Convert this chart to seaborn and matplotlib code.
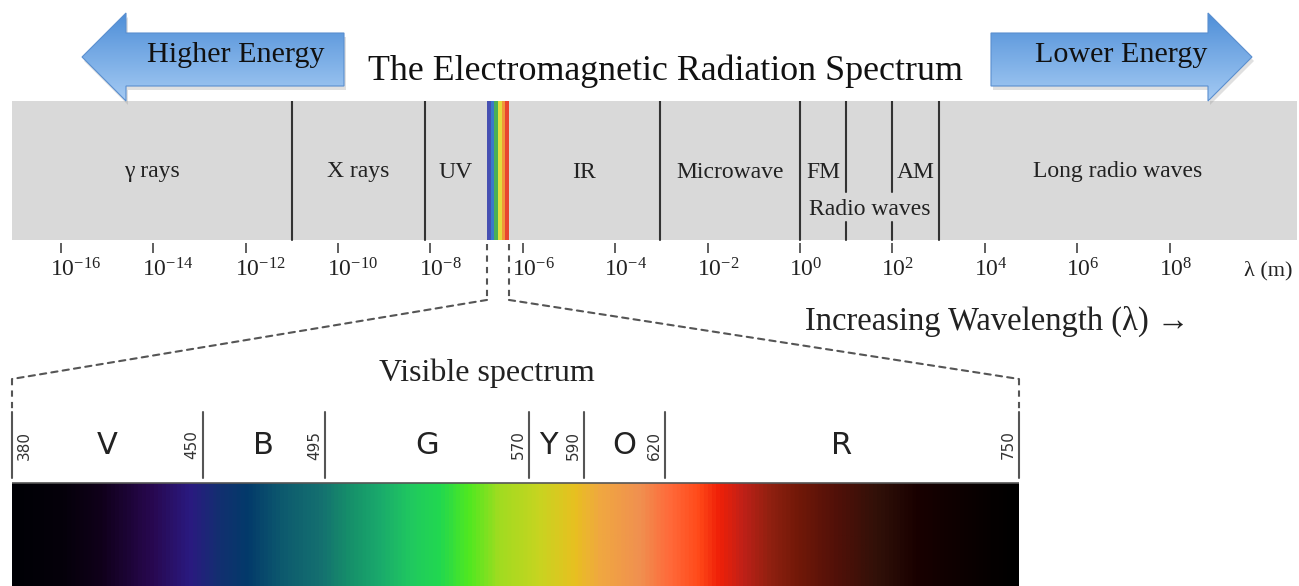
import numpy as np
import matplotlib
matplotlib.use("Agg")
import matplotlib.pyplot as plt
import matplotlib.transforms as mtransforms
import seaborn as sns
from matplotlib.colors import LinearSegmentedColormap, ListedColormap, Normalize
from matplotlib.patches import Polygon, ConnectionPatch
from matplotlib.ticker import NullLocator

# ---- top band: regions on a log10 wavelength (m) axis ----
region_names = ["γ rays", "X rays", "UV", "IR", "Microwave", "FM", "AM", "Long radio waves"]
region_lo = [-17.06, -11.0, -8.12, -6.30, -3.03, 0.0, 2.0, 3.0]
region_hi = [-11.0, -8.12, -6.775, -3.03, 0.0, 1.0, 3.0, 10.76]
full_dividers = [-11.0, -8.12, -3.03, 0.0, 3.0]
split_dividers = [1.0, 2.0]
radio_span = [0.0, 3.0]
visible_span = [-6.775, -6.30]
rainbow_colors = ["#4650b2", "#3b78c9", "#4aae56", "#e2dc3c", "#f0973a", "#e8452f"]
tick_exponents = [-16, -14, -12, -10, -8, -6, -4, -2, 0, 2, 4, 6, 8]

# ---- bottom: visible spectrum (nm) ----
vis_bounds = [380, 450, 495, 570, 590, 620, 750]
vis_letters = ["V", "B", "G", "Y", "O", "R"]
vis_letter_nm = [415, 472.5, 532.5, 577, 605, 685]
vis_nm = [380, 398, 412, 431, 445, 456, 466, 479, 493, 504, 515, 526, 537, 548, 559,
          574, 587, 596, 611, 622, 633, 640, 649, 659, 670, 684, 699, 714, 736, 750]
vis_colors = ["#000005", "#05000a", "#10001a", "#280850", "#2a1a80", "#123070", "#033a6a",
              "#0d5a6e", "#147070", "#16906a", "#1aaa6c", "#20c860", "#22d850", "#50e820",
              "#a0dc20", "#c8d420", "#e8c020", "#f0a840", "#f09050", "#ff6a3a", "#ff4818",
              "#f02008", "#c02018", "#902010", "#701808", "#501008", "#301008", "#180000",
              "#080000", "#000000"]

sns.set_theme(style="white")
serif = ["Liberation Serif", "DejaVu Serif"]
plt.rcParams["font.family"] = serif
plt.rcParams["mathtext.fontset"] = "stix"

W, H = 1299, 586
PX_PER_DEC = 46.2
ZERO_PX = 800
line_col = "#333333"

fig = plt.figure(figsize=(W / 100, H / 100), dpi=100)

# top band axes (log scale)
ax = fig.add_axes([0, 1 - 243 / H, 1, 142 / H])
ax.set_xscale("log")
ax.set_xlim(10 ** (-ZERO_PX / PX_PER_DEC), 10 ** ((W - ZERO_PX) / PX_PER_DEC))
ax.set_ylim(0, 1)
for s in ax.spines.values():
    s.set_visible(False)
band_bot = 0.021
ax.axvspan(10 ** region_lo[0], 10 ** region_hi[-1], ymin=band_bot, ymax=1,
           color="#d9d9d9", lw=0, zorder=0)

# rainbow strip for visible light
edges = np.logspace(visible_span[0], visible_span[1], len(rainbow_colors) + 1)
ax.pcolormesh(edges, [band_bot, 1], np.arange(len(rainbow_colors))[None, :],
              cmap=ListedColormap(rainbow_colors), shading="flat", zorder=1)

for d in full_dividers:
    ax.plot([10 ** d] * 2, [band_bot, 1], color=line_col, lw=1.5, zorder=2)
for d in split_dividers:
    ax.plot([10 ** d] * 2, [0.359, 1], color=line_col, lw=1.5, zorder=2)
    ax.plot([10 ** d] * 2, [band_bot, 0.148], color=line_col, lw=1.5, zorder=2)

for name, lo, hi in zip(region_names, region_lo, region_hi):
    ax.text(10 ** ((lo + hi) / 2), 0.50, name, ha="center", va="center",
            fontsize=17, color="#222222")
ax.text(10 ** (sum(radio_span) / 2), 0.235, "Radio waves", ha="center", va="center",
        fontsize=17, color="#222222")

ax.set_yticks([])
ax.set_xticks([10.0 ** e for e in tick_exponents])
ax.xaxis.set_minor_locator(NullLocator())
ax.tick_params(axis="x", bottom=True, direction="out", length=7, width=1.1,
               color=line_col, pad=4, labelsize=17, labelcolor="#222222")
# centre the "10" on the tick, exponent hangs to the right
shift = mtransforms.ScaledTranslation(-11 / 100, 0, fig.dpi_scale_trans)
for lab in ax.get_xticklabels():
    lab.set_horizontalalignment("left")
    lab.set_transform(lab.get_transform() + shift)

# dashed zoom lines from the top band
dash = dict(color="#555555", lw=1.5, ls=(0, (3, 2.5)))
for e in visible_span:
    ax.plot([10 ** e] * 2, [-0.007, -0.401], clip_on=False, **dash)

# bottom axes: visible spectrum
axb = fig.add_axes([12 / W, 0, 1007 / W, 210 / H])
axb.set_xlim(vis_bounds[0], vis_bounds[-1])
axb.set_ylim(0, 210)
axb.axis("off")
grad = np.linspace(vis_bounds[0], vis_bounds[-1], 1000)[None, :]
vis_cmap = LinearSegmentedColormap.from_list(
    "visible", list(zip((np.array(vis_nm) - vis_nm[0]) / (vis_nm[-1] - vis_nm[0]), vis_colors)))
axb.imshow(grad, extent=[vis_bounds[0], vis_bounds[-1], 0, 103], aspect="auto",
           cmap=vis_cmap, norm=Normalize(vis_bounds[0], vis_bounds[-1]))
axb.axhline(103, color="#555555", lw=1.2)
for i, b in enumerate(vis_bounds):
    axb.plot([b, b], [108, 174], color="#555555", lw=1.5, clip_on=False)
    off = 9 if i == 0 else -7.5
    axb.annotate(str(b), (b, 141), xytext=(off, 0), textcoords="offset points",
                 rotation=90, ha="center", va="center", fontsize=11,
                 color="#333333", family="DejaVu Sans")
for letter, x in zip(vis_letters, vis_letter_nm):
    axb.text(x, 141, letter, ha="center", va="center", fontsize=22,
             color="#222222", family="DejaVu Sans")
for b in (vis_bounds[0], vis_bounds[-1]):
    axb.plot([b, b], [207, 174], clip_on=False, **dash)
for e, b in zip(visible_span, (vis_bounds[0], vis_bounds[-1])):
    fig.add_artist(ConnectionPatch(xyA=(10 ** e, -0.401), coordsA=ax.transData,
                                   xyB=(b, 207), coordsB=axb.transData, **dash))

# overlay in pixel units for arrows and titles
ov = fig.add_axes([0, 0, 1, 1])
ov.set_xlim(0, W)
ov.set_ylim(H, 0)
ov.axis("off")
arrow_cmap = LinearSegmentedColormap.from_list("arrow", ["#4f8fd8", "#a4caf3"])
arrows = [
    [(82, 57), (126, 13), (126, 33), (344, 33), (344, 86), (126, 86), (126, 101)],
    [(1252, 57), (1208, 13), (1208, 33), (991, 33), (991, 86), (1208, 86), (1208, 101)],
]
for verts in arrows:
    shadow = Polygon([(x + 2, y + 4) for x, y in verts], closed=True,
                     color="#999999", alpha=0.3, lw=0, zorder=0.5)
    ov.add_patch(shadow)
    poly = Polygon(verts, closed=True, facecolor="none", edgecolor="#5a8fcf",
                   lw=0.8, zorder=2)
    ov.add_patch(poly)
    xs = [v[0] for v in verts]
    im = ov.imshow(np.linspace(0, 1, 100)[:, None], cmap=arrow_cmap, zorder=1,
                   extent=(min(xs), max(xs), 101, 13), origin="upper", aspect="auto")
    im.set_clip_path(poly)
ov.set_xlim(0, W)
ov.set_ylim(H, 0)

ov.text(236, 55, "Higher Energy", ha="center", va="center", fontsize=21.7,
        color="#111111", zorder=3)
ov.text(1121, 55, "Lower Energy", ha="center", va="center", fontsize=21.7,
        color="#111111", zorder=3)
ov.text(665, 71, "The Electromagnetic Radiation Spectrum", ha="center", va="center",
        fontsize=25.8, color="#111111")
ov.text(1268, 271, "λ (m)", ha="center", va="center", fontsize=16, color="#222222")
ov.text(997, 321, "Increasing Wavelength (λ) →", ha="center", va="center",
        fontsize=23.5, color="#222222")
ov.text(487, 373, "Visible spectrum", ha="center", va="center", fontsize=23,
        color="#222222")

fig.savefig("out.png", dpi=100)
